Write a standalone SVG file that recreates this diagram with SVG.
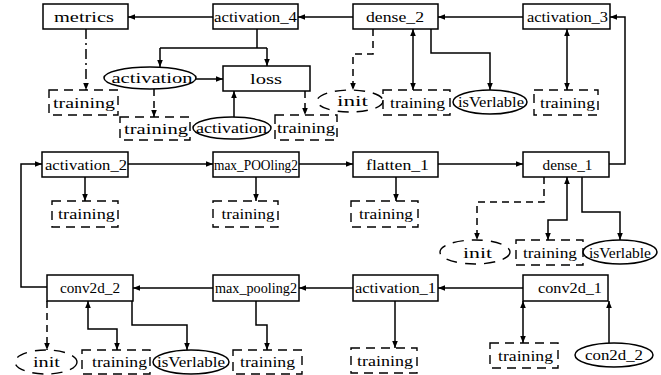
<svg xmlns="http://www.w3.org/2000/svg" width="661" height="375" viewBox="0 0 661 375">
<defs>
<style>
.box{fill:#fff;stroke:#000;stroke-width:1.5}
.dbox{fill:#fff;stroke:#000;stroke-width:1.4;stroke-dasharray:9 6}
.ell{fill:#fff;stroke:#000;stroke-width:1.5}
.dell{fill:#fff;stroke:#000;stroke-width:1.4;stroke-dasharray:11 8}
.c{fill:none;stroke:#000;stroke-width:1.5}
.cd{stroke-dasharray:7 5}
.cdd{stroke-dasharray:10 4 2 4}
text{font-family:"Liberation Serif","DejaVu Serif",serif;font-size:15px;fill:#000;text-anchor:middle}
</style>
<marker id="ah" viewBox="0 0 10 10" refX="10" refY="5" markerWidth="7" markerHeight="7" markerUnits="userSpaceOnUse" orient="auto-start-reverse"><path d="M0,1 L10,5 L0,9 z" fill="#000"/></marker>
</defs>
<rect width="661" height="375" fill="#fff"/>
<g id="nodes">
<g id="metrics"><rect class="box" x="43" y="4" width="85" height="25"/><text x="84" y="21.5" textLength="60" lengthAdjust="spacingAndGlyphs">metrics</text></g>
<g id="activation_4"><rect class="box" x="213" y="4" width="85" height="25"/><text x="255.5" y="21.5" textLength="83" lengthAdjust="spacingAndGlyphs">activation_4</text></g>
<g id="dense_2"><rect class="box" x="353" y="4" width="85" height="25"/><text x="395" y="21.5" textLength="58" lengthAdjust="spacingAndGlyphs">dense_2</text></g>
<g id="activation_3"><rect class="box" x="523" y="4" width="87" height="25"/><text x="567.5" y="21.5" textLength="81" lengthAdjust="spacingAndGlyphs">activation_3</text></g>
<g id="loss"><rect class="box" x="223" y="66" width="87" height="25"/><text x="266" y="83.5" textLength="32" lengthAdjust="spacingAndGlyphs">loss</text></g>
<g id="activation_e1"><ellipse class="ell" cx="150" cy="78" rx="46" ry="11"/><text x="152" y="83" textLength="81" lengthAdjust="spacingAndGlyphs">activation</text></g>
<g id="activation_e2"><ellipse class="ell" cx="232" cy="128" rx="39" ry="11"/><text x="231.5" y="133" textLength="71" lengthAdjust="spacingAndGlyphs">activation</text></g>
<g id="training_1"><rect class="dbox" x="49" y="90" width="69" height="25"/><text x="84" y="107.5" textLength="62" lengthAdjust="spacingAndGlyphs">training</text></g>
<g id="training_2"><rect class="dbox" x="120" y="117" width="70" height="23"/><text x="156" y="133.5" textLength="64" lengthAdjust="spacingAndGlyphs">training</text></g>
<g id="training_3"><rect class="dbox" x="275" y="115" width="62" height="25"/><text x="306" y="132.5" textLength="58" lengthAdjust="spacingAndGlyphs">training</text></g>
<g id="init_1"><ellipse class="dell" cx="350" cy="101" rx="33" ry="11"/><text x="352.5" y="106" textLength="31" lengthAdjust="spacingAndGlyphs">init</text></g>
<g id="training_4"><rect class="dbox" x="383" y="90" width="67" height="25"/><text x="417.5" y="107.5" textLength="55" lengthAdjust="spacingAndGlyphs">training</text></g>
<g id="isVerlable_1"><ellipse class="ell" cx="490" cy="102" rx="37" ry="12"/><text x="491" y="107" textLength="66" lengthAdjust="spacingAndGlyphs">isVerlable</text></g>
<g id="training_5"><rect class="dbox" x="534" y="90" width="64" height="25"/><text x="567.5" y="107.5" textLength="55" lengthAdjust="spacingAndGlyphs">training</text></g>
<g id="activation_2"><rect class="box" x="42" y="152" width="86" height="25"/><text x="86" y="169.5" textLength="82" lengthAdjust="spacingAndGlyphs">activation_2</text></g>
<g id="max_POOling2"><rect class="box" x="213" y="152" width="86" height="25"/><text x="256" y="169.5" textLength="84" lengthAdjust="spacingAndGlyphs">max_POOling2</text></g>
<g id="flatten_1"><rect class="box" x="353" y="152" width="85" height="25"/><text x="397.5" y="169.5" textLength="63" lengthAdjust="spacingAndGlyphs">flatten_1</text></g>
<g id="dense_1"><rect class="box" x="523" y="152" width="86" height="25"/><text x="567.5" y="169.5" textLength="50" lengthAdjust="spacingAndGlyphs">dense_1</text></g>
<g id="training_6"><rect class="dbox" x="52" y="201" width="66" height="26"/><text x="86.5" y="219" textLength="57" lengthAdjust="spacingAndGlyphs">training</text></g>
<g id="training_7"><rect class="dbox" x="213" y="201" width="65" height="26"/><text x="248" y="219" textLength="53" lengthAdjust="spacingAndGlyphs">training</text></g>
<g id="training_8"><rect class="dbox" x="351" y="201" width="67" height="26"/><text x="386" y="219" textLength="54" lengthAdjust="spacingAndGlyphs">training</text></g>
<g id="init_2"><ellipse class="dell" cx="475" cy="252" rx="35" ry="12"/><text x="477.5" y="257.5" textLength="29" lengthAdjust="spacingAndGlyphs">init</text></g>
<g id="training_9"><rect class="dbox" x="516" y="240" width="67" height="25"/><text x="550" y="257.5" textLength="54" lengthAdjust="spacingAndGlyphs">training</text></g>
<g id="isVerlable_2"><ellipse class="ell" cx="620" cy="252" rx="37" ry="12"/><text x="620" y="257.5" textLength="62" lengthAdjust="spacingAndGlyphs">isVerlable</text></g>
<g id="conv2d_2"><rect class="box" x="47" y="275" width="86" height="26"/><text x="90" y="293" textLength="60" lengthAdjust="spacingAndGlyphs">conv2d_2</text></g>
<g id="max_pooling2"><rect class="box" x="213" y="275" width="86" height="26"/><text x="256" y="293" textLength="82" lengthAdjust="spacingAndGlyphs">max_pooling2</text></g>
<g id="activation_1"><rect class="box" x="353" y="275" width="85" height="26"/><text x="395.5" y="293" textLength="81" lengthAdjust="spacingAndGlyphs">activation_1</text></g>
<g id="conv2d_1"><rect class="box" x="523" y="275" width="85" height="26"/><text x="570" y="293" textLength="64" lengthAdjust="spacingAndGlyphs">conv2d_1</text></g>
<g id="init_3"><ellipse class="dell" cx="46" cy="362" rx="31" ry="12"/><text x="46.5" y="367" textLength="27" lengthAdjust="spacingAndGlyphs">init</text></g>
<g id="training_10"><rect class="dbox" x="82" y="350" width="68" height="24"/><text x="119.5" y="367" textLength="55" lengthAdjust="spacingAndGlyphs">training</text></g>
<g id="isVerlable_3"><ellipse class="ell" cx="191" cy="362" rx="38" ry="12"/><text x="191" y="367" textLength="68" lengthAdjust="spacingAndGlyphs">isVerlable</text></g>
<g id="training_11"><rect class="dbox" x="233" y="350" width="69" height="24"/><text x="267.5" y="367" textLength="55" lengthAdjust="spacingAndGlyphs">training</text></g>
<g id="training_13"><rect class="dbox" x="351" y="348" width="66" height="25"/><text x="385" y="365.5" textLength="56" lengthAdjust="spacingAndGlyphs">training</text></g>
<g id="training_12"><rect class="dbox" x="490" y="343" width="68" height="25"/><text x="525.5" y="360.5" textLength="55" lengthAdjust="spacingAndGlyphs">training</text></g>
<g id="con2d_2"><ellipse class="ell" cx="614" cy="355" rx="39" ry="12"/><text x="614" y="360" textLength="58" lengthAdjust="spacingAndGlyphs">con2d_2</text></g>
</g>
<g id="connectors">
<path class="c" d="M213,17 H128" marker-end="url(#ah)"/>
<path class="c" d="M353,17 H298" marker-end="url(#ah)"/>
<path class="c" d="M523,17 H438" marker-end="url(#ah)"/>
<path class="c" d="M609,164 H625 V17 H610" marker-end="url(#ah)"/>
<path class="c" d="M257,29 V48 M160,48 H267"/>
<path class="c" d="M160,48 V67" marker-end="url(#ah)"/>
<path class="c" d="M267,48 V66" marker-end="url(#ah)"/>
<path class="c" d="M196,79 H223" marker-end="url(#ah)"/>
<path class="c" d="M234,117 V91" marker-end="url(#ah)"/>
<path class="c cdd" d="M86,29 V90" marker-end="url(#ah)"/>
<path class="c cd" d="M154,89 V117" marker-end="url(#ah)"/>
<path class="c cd" d="M305,91 V115" marker-end="url(#ah)"/>
<path class="c cd" d="M373,29 V54 H353 V90" marker-end="url(#ah)"/>
<path class="c" d="M413,29 V90" marker-start="url(#ah)" marker-end="url(#ah)"/>
<path class="c" d="M431,29 V53 H490 V90" marker-end="url(#ah)"/>
<path class="c" d="M567,29 V90" marker-start="url(#ah)" marker-end="url(#ah)"/>
<path class="c" d="M128,164 H213" marker-end="url(#ah)"/>
<path class="c" d="M299,164 H353" marker-end="url(#ah)"/>
<path class="c" d="M438,164 H523" marker-end="url(#ah)"/>
<path class="c" d="M85,177 V201" marker-end="url(#ah)"/>
<path class="c" d="M256,177 V201" marker-end="url(#ah)"/>
<path class="c" d="M396,177 V201" marker-end="url(#ah)"/>
<path class="c cd" d="M544,177 V202 H477 V240" marker-end="url(#ah)"/>
<path class="c" d="M567,177 V220 H548 V240" marker-start="url(#ah)" marker-end="url(#ah)"/>
<path class="c" d="M582,177 V212 H620 V240" marker-end="url(#ah)"/>
<path class="c" d="M47,287 H21 V164 H42" marker-end="url(#ah)"/>
<path class="c" d="M213,288 H133" marker-end="url(#ah)"/>
<path class="c" d="M353,288 H299" marker-end="url(#ah)"/>
<path class="c" d="M523,288 H438" marker-end="url(#ah)"/>
<path class="c cd" d="M47,301 V350" marker-end="url(#ah)"/>
<path class="c" d="M88,301 V329 H117 V350" marker-start="url(#ah)" marker-end="url(#ah)"/>
<path class="c" d="M132,301 V325 H187 V350" marker-end="url(#ah)"/>
<path class="c" d="M256,301 V325 H267 V350" marker-end="url(#ah)"/>
<path class="c" d="M395,301 V348" marker-end="url(#ah)"/>
<path class="c" d="M523,301 V343" marker-start="url(#ah)" marker-end="url(#ah)"/>
<path class="c" d="M609,343 V301" marker-end="url(#ah)"/>
</g>
</svg>
